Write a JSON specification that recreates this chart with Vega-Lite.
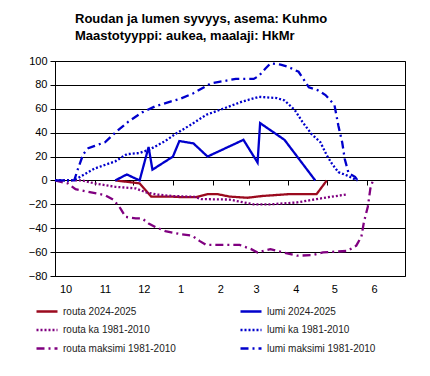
{
  "$schema": "https://vega.github.io/schema/vega-lite/v6.json",
  "width": 350,
  "height": 215,
  "autosize": {"type": "none"},
  "padding": {"left": 55, "top": 61, "right": 25, "bottom": 100},
  "background": "white",
  "title": {
    "text": ["Roudan ja lumen syvyys, asema: Kuhmo", "Maastotyyppi: aukea, maalaji: HkMr"],
    "anchor": "start",
    "frame": "group",
    "dx": 20,
    "offset": 12,
    "fontSize": 13,
    "fontWeight": "bold",
    "font": "Liberation Sans",
    "color": "black",
    "lineHeight": 17
  },
  "data": {
    "values": [
      {"series": "routa 2024-2025", "date": "2024-11-17", "depth": 0},
      {"series": "routa 2024-2025", "date": "2024-11-29", "depth": -1.5},
      {"series": "routa 2024-2025", "date": "2024-12-06", "depth": -2.5},
      {"series": "routa 2024-2025", "date": "2024-12-15", "depth": -13.5},
      {"series": "routa 2024-2025", "date": "2024-12-30", "depth": -13.5},
      {"series": "routa 2024-2025", "date": "2025-01-08", "depth": -14},
      {"series": "routa 2024-2025", "date": "2025-01-19", "depth": -14},
      {"series": "routa 2024-2025", "date": "2025-01-28", "depth": -11.5},
      {"series": "routa 2024-2025", "date": "2025-02-05", "depth": -11.5},
      {"series": "routa 2024-2025", "date": "2025-02-14", "depth": -13.5},
      {"series": "routa 2024-2025", "date": "2025-02-28", "depth": -14.5},
      {"series": "routa 2024-2025", "date": "2025-03-12", "depth": -13},
      {"series": "routa 2024-2025", "date": "2025-04-01", "depth": -11.5},
      {"series": "routa 2024-2025", "date": "2025-04-23", "depth": -11.5},
      {"series": "routa 2024-2025", "date": "2025-05-01", "depth": 0},

      {"series": "lumi 2024-2025", "date": "2024-11-17", "depth": 0},
      {"series": "lumi 2024-2025", "date": "2024-11-26", "depth": 5},
      {"series": "lumi 2024-2025", "date": "2024-12-06", "depth": 0},
      {"series": "lumi 2024-2025", "date": "2024-12-13", "depth": 28},
      {"series": "lumi 2024-2025", "date": "2024-12-16", "depth": 9},
      {"series": "lumi 2024-2025", "date": "2025-01-01", "depth": 20},
      {"series": "lumi 2024-2025", "date": "2025-01-06", "depth": 33},
      {"series": "lumi 2024-2025", "date": "2025-01-17", "depth": 31},
      {"series": "lumi 2024-2025", "date": "2025-01-28", "depth": 20},
      {"series": "lumi 2024-2025", "date": "2025-02-25", "depth": 34},
      {"series": "lumi 2024-2025", "date": "2025-03-08", "depth": 15},
      {"series": "lumi 2024-2025", "date": "2025-03-10", "depth": 48},
      {"series": "lumi 2024-2025", "date": "2025-03-29", "depth": 34},
      {"series": "lumi 2024-2025", "date": "2025-04-22", "depth": 0},

      {"series": "routa ka 1981-2010", "date": "2024-10-01", "depth": 0},
      {"series": "routa ka 1981-2010", "date": "2024-10-22", "depth": 0},
      {"series": "routa ka 1981-2010", "date": "2024-11-01", "depth": -2.5},
      {"series": "routa ka 1981-2010", "date": "2024-11-17", "depth": -5.3},
      {"series": "routa ka 1981-2010", "date": "2024-12-03", "depth": -6.7},
      {"series": "routa ka 1981-2010", "date": "2024-12-11", "depth": -10},
      {"series": "routa ka 1981-2010", "date": "2024-12-19", "depth": -11.7},
      {"series": "routa ka 1981-2010", "date": "2024-12-31", "depth": -13},
      {"series": "routa ka 1981-2010", "date": "2025-01-18", "depth": -13.7},
      {"series": "routa ka 1981-2010", "date": "2025-01-23", "depth": -15.6},
      {"series": "routa ka 1981-2010", "date": "2025-02-14", "depth": -16},
      {"series": "routa ka 1981-2010", "date": "2025-03-05", "depth": -20},
      {"series": "routa ka 1981-2010", "date": "2025-03-18", "depth": -20},
      {"series": "routa ka 1981-2010", "date": "2025-04-08", "depth": -18.4},
      {"series": "routa ka 1981-2010", "date": "2025-04-23", "depth": -15.6},
      {"series": "routa ka 1981-2010", "date": "2025-05-04", "depth": -13.7},
      {"series": "routa ka 1981-2010", "date": "2025-05-17", "depth": -11.7},

      {"series": "lumi ka 1981-2010", "date": "2024-10-01", "depth": 0},
      {"series": "lumi ka 1981-2010", "date": "2024-10-14", "depth": 0},
      {"series": "lumi ka 1981-2010", "date": "2024-10-19", "depth": 2},
      {"series": "lumi ka 1981-2010", "date": "2024-11-01", "depth": 10},
      {"series": "lumi ka 1981-2010", "date": "2024-11-17", "depth": 16},
      {"series": "lumi ka 1981-2010", "date": "2024-11-26", "depth": 22},
      {"series": "lumi ka 1981-2010", "date": "2024-12-06", "depth": 23},
      {"series": "lumi ka 1981-2010", "date": "2024-12-14", "depth": 26},
      {"series": "lumi ka 1981-2010", "date": "2024-12-26", "depth": 33},
      {"series": "lumi ka 1981-2010", "date": "2025-01-03", "depth": 39},
      {"series": "lumi ka 1981-2010", "date": "2025-01-14", "depth": 46},
      {"series": "lumi ka 1981-2010", "date": "2025-01-27", "depth": 55},
      {"series": "lumi ka 1981-2010", "date": "2025-02-09", "depth": 60},
      {"series": "lumi ka 1981-2010", "date": "2025-02-24", "depth": 66},
      {"series": "lumi ka 1981-2010", "date": "2025-03-09", "depth": 70},
      {"series": "lumi ka 1981-2010", "date": "2025-03-23", "depth": 69},
      {"series": "lumi ka 1981-2010", "date": "2025-03-29", "depth": 67},
      {"series": "lumi ka 1981-2010", "date": "2025-04-06", "depth": 59},
      {"series": "lumi ka 1981-2010", "date": "2025-04-12", "depth": 49},
      {"series": "lumi ka 1981-2010", "date": "2025-04-19", "depth": 39},
      {"series": "lumi ka 1981-2010", "date": "2025-04-26", "depth": 32},
      {"series": "lumi ka 1981-2010", "date": "2025-05-01", "depth": 21},
      {"series": "lumi ka 1981-2010", "date": "2025-05-05", "depth": 14},
      {"series": "lumi ka 1981-2010", "date": "2025-05-10", "depth": 7},
      {"series": "lumi ka 1981-2010", "date": "2025-05-17", "depth": 4},
      {"series": "lumi ka 1981-2010", "date": "2025-05-23", "depth": 1},
      {"series": "lumi ka 1981-2010", "date": "2025-05-25", "depth": 0},

      {"series": "routa maksimi 1981-2010", "date": "2024-10-01", "depth": 0},
      {"series": "routa maksimi 1981-2010", "date": "2024-10-11", "depth": -2.5},
      {"series": "routa maksimi 1981-2010", "date": "2024-10-17", "depth": -7.3},
      {"series": "routa maksimi 1981-2010", "date": "2024-10-27", "depth": -9.5},
      {"series": "routa maksimi 1981-2010", "date": "2024-11-09", "depth": -12.3},
      {"series": "routa maksimi 1981-2010", "date": "2024-11-16", "depth": -16.5},
      {"series": "routa maksimi 1981-2010", "date": "2024-11-21", "depth": -23.4},
      {"series": "routa maksimi 1981-2010", "date": "2024-11-25", "depth": -30.5},
      {"series": "routa maksimi 1981-2010", "date": "2024-12-03", "depth": -31.8},
      {"series": "routa maksimi 1981-2010", "date": "2024-12-08", "depth": -31.8},
      {"series": "routa maksimi 1981-2010", "date": "2024-12-13", "depth": -36},
      {"series": "routa maksimi 1981-2010", "date": "2024-12-19", "depth": -39.3},
      {"series": "routa maksimi 1981-2010", "date": "2024-12-26", "depth": -42.4},
      {"series": "routa maksimi 1981-2010", "date": "2025-01-08", "depth": -45.2},
      {"series": "routa maksimi 1981-2010", "date": "2025-01-16", "depth": -46.3},
      {"series": "routa maksimi 1981-2010", "date": "2025-01-22", "depth": -50.8},
      {"series": "routa maksimi 1981-2010", "date": "2025-01-27", "depth": -54},
      {"series": "routa maksimi 1981-2010", "date": "2025-02-14", "depth": -54},
      {"series": "routa maksimi 1981-2010", "date": "2025-02-22", "depth": -54},
      {"series": "routa maksimi 1981-2010", "date": "2025-03-03", "depth": -57.5},
      {"series": "routa maksimi 1981-2010", "date": "2025-03-08", "depth": -60.3},
      {"series": "routa maksimi 1981-2010", "date": "2025-03-18", "depth": -57.5},
      {"series": "routa maksimi 1981-2010", "date": "2025-03-28", "depth": -60.3},
      {"series": "routa maksimi 1981-2010", "date": "2025-04-08", "depth": -63},
      {"series": "routa maksimi 1981-2010", "date": "2025-04-20", "depth": -62.5},
      {"series": "routa maksimi 1981-2010", "date": "2025-04-28", "depth": -60.3},
      {"series": "routa maksimi 1981-2010", "date": "2025-05-17", "depth": -59},
      {"series": "routa maksimi 1981-2010", "date": "2025-05-24", "depth": -54.6},
      {"series": "routa maksimi 1981-2010", "date": "2025-05-28", "depth": -47},
      {"series": "routa maksimi 1981-2010", "date": "2025-05-30", "depth": -34.6},
      {"series": "routa maksimi 1981-2010", "date": "2025-06-02", "depth": -22},
      {"series": "routa maksimi 1981-2010", "date": "2025-06-04", "depth": -6.7},
      {"series": "routa maksimi 1981-2010", "date": "2025-06-06", "depth": 0},

      {"series": "lumi maksimi 1981-2010", "date": "2024-10-01", "depth": 0},
      {"series": "lumi maksimi 1981-2010", "date": "2024-10-16", "depth": 0},
      {"series": "lumi maksimi 1981-2010", "date": "2024-10-19", "depth": 10},
      {"series": "lumi maksimi 1981-2010", "date": "2024-10-23", "depth": 22},
      {"series": "lumi maksimi 1981-2010", "date": "2024-10-27", "depth": 27},
      {"series": "lumi maksimi 1981-2010", "date": "2024-11-01", "depth": 29},
      {"series": "lumi maksimi 1981-2010", "date": "2024-11-09", "depth": 32},
      {"series": "lumi maksimi 1981-2010", "date": "2024-11-18", "depth": 41},
      {"series": "lumi maksimi 1981-2010", "date": "2024-11-27", "depth": 49},
      {"series": "lumi maksimi 1981-2010", "date": "2024-12-08", "depth": 57},
      {"series": "lumi maksimi 1981-2010", "date": "2024-12-18", "depth": 62},
      {"series": "lumi maksimi 1981-2010", "date": "2024-12-30", "depth": 66},
      {"series": "lumi maksimi 1981-2010", "date": "2025-01-07", "depth": 68.5},
      {"series": "lumi maksimi 1981-2010", "date": "2025-01-17", "depth": 73},
      {"series": "lumi maksimi 1981-2010", "date": "2025-01-30", "depth": 81},
      {"series": "lumi maksimi 1981-2010", "date": "2025-02-06", "depth": 82.5},
      {"series": "lumi maksimi 1981-2010", "date": "2025-02-19", "depth": 85},
      {"series": "lumi maksimi 1981-2010", "date": "2025-03-05", "depth": 85},
      {"series": "lumi maksimi 1981-2010", "date": "2025-03-09", "depth": 87.5},
      {"series": "lumi maksimi 1981-2010", "date": "2025-03-14", "depth": 93.5},
      {"series": "lumi maksimi 1981-2010", "date": "2025-03-18", "depth": 98},
      {"series": "lumi maksimi 1981-2010", "date": "2025-03-26", "depth": 97},
      {"series": "lumi maksimi 1981-2010", "date": "2025-04-01", "depth": 95},
      {"series": "lumi maksimi 1981-2010", "date": "2025-04-09", "depth": 91},
      {"series": "lumi maksimi 1981-2010", "date": "2025-04-17", "depth": 78},
      {"series": "lumi maksimi 1981-2010", "date": "2025-04-24", "depth": 75.5},
      {"series": "lumi maksimi 1981-2010", "date": "2025-04-30", "depth": 71.5},
      {"series": "lumi maksimi 1981-2010", "date": "2025-05-07", "depth": 63},
      {"series": "lumi maksimi 1981-2010", "date": "2025-05-10", "depth": 46},
      {"series": "lumi maksimi 1981-2010", "date": "2025-05-13", "depth": 32},
      {"series": "lumi maksimi 1981-2010", "date": "2025-05-15", "depth": 18},
      {"series": "lumi maksimi 1981-2010", "date": "2025-05-18", "depth": 6},
      {"series": "lumi maksimi 1981-2010", "date": "2025-05-23", "depth": 3},
      {"series": "lumi maksimi 1981-2010", "date": "2025-05-25", "depth": 0}
    ]
  },
  "layer": [
    {
      "mark": {"type": "line", "strokeWidth": 2.3},
      "encoding": {
        "x": {
          "field": "date",
          "type": "temporal",
          "scale": {
            "type": "utc",
            "nice": false,
            "domain": [
              {"year": 2024, "month": 10, "date": 1, "utc": true},
              {"year": 2025, "month": 7, "date": 1, "utc": true}
            ]
          },
          "axis": {
            "orient": "bottom",
            "title": null,
            "values": [
              {"year": 2024, "month": 10, "date": 1, "utc": true},
              {"year": 2024, "month": 11, "date": 1, "utc": true},
              {"year": 2024, "month": 12, "date": 1, "utc": true},
              {"year": 2025, "month": 1, "date": 1, "utc": true},
              {"year": 2025, "month": 2, "date": 1, "utc": true},
              {"year": 2025, "month": 3, "date": 1, "utc": true},
              {"year": 2025, "month": 4, "date": 1, "utc": true},
              {"year": 2025, "month": 5, "date": 1, "utc": true},
              {"year": 2025, "month": 6, "date": 1, "utc": true}
            ],
            "labelExpr": "utcFormat(datum.value, '%-m')",
            "ticks": false,
            "tickSize": 0,
            "domain": false,
            "grid": false,
            "labelFlush": false,
            "labelAlign": "left",
            "labelOffset": 4.5,
            "labelPadding": 7,
            "labelFontSize": 11,
            "labelColor": "black",
            "labelFont": "Liberation Sans"
          }
        },
        "y": {
          "field": "depth",
          "type": "quantitative",
          "scale": {"domain": [-80, 100], "nice": false, "zero": false},
          "axis": {
            "title": null,
            "values": [-80, -60, -40, -20, 0, 20, 40, 60, 80, 100],
            "grid": true,
            "gridColor": "black",
            "gridWidth": 1,
            "gridOpacity": 1,
            "domain": true,
            "domainColor": "black",
            "ticks": true,
            "tickSize": 5,
            "tickColor": "black",
            "labelPadding": 3,
            "labelFontSize": 11,
            "labelColor": "black",
            "labelFont": "Liberation Sans"
          }
        },
        "color": {
          "field": "series",
          "type": "nominal",
          "scale": {
            "domain": ["routa 2024-2025", "lumi 2024-2025", "routa ka 1981-2010", "lumi ka 1981-2010", "routa maksimi 1981-2010", "lumi maksimi 1981-2010"],
            "range": ["#9B0A1E", "#0000CC", "#800080", "#0000CC", "#800080", "#0000CC"]
          },
          "legend": {
            "orient": "none",
            "legendX": -20,
            "legendY": 238.5,
            "direction": "horizontal",
            "columns": 2,
            "columnPadding": 59,
            "rowPadding": 1.5,
            "title": null,
            "symbolType": "stroke",
            "symbolSize": 441,
            "symbolStrokeWidth": 2.5,
            "labelFontSize": 10,
            "labelOffset": 4,
            "labelColor": "#222222",
            "labelFont": "Liberation Sans",
            "labelLimit": 300
          }
        },
        "strokeDash": {
          "field": "series",
          "type": "nominal",
          "scale": {
            "domain": ["routa 2024-2025", "lumi 2024-2025", "routa ka 1981-2010", "lumi ka 1981-2010", "routa maksimi 1981-2010", "lumi maksimi 1981-2010"],
            "range": [[1, 0], [1, 0], [2, 2], [2, 2], [8, 4, 2, 4], [8, 4, 2, 4]]
          },
          "legend": {
            "orient": "none",
            "legendX": -20,
            "legendY": 238.5,
            "direction": "horizontal",
            "columns": 2,
            "columnPadding": 59,
            "rowPadding": 1.5,
            "title": null,
            "symbolType": "stroke",
            "symbolSize": 441,
            "symbolStrokeWidth": 2.5,
            "labelFontSize": 10,
            "labelOffset": 4,
            "labelColor": "#222222",
            "labelFont": "Liberation Sans",
            "labelLimit": 300
          }
        }
      }
    },
    {
      "mark": {"type": "line", "opacity": 0},
      "encoding": {
        "x": {
          "field": "date",
          "type": "temporal",
          "axis": {
            "orient": "bottom",
            "offset": -96,
            "title": null,
            "values": [
              {"year": 2024, "month": 11, "date": 1, "utc": true},
              {"year": 2024, "month": 12, "date": 1, "utc": true},
              {"year": 2025, "month": 1, "date": 1, "utc": true},
              {"year": 2025, "month": 2, "date": 1, "utc": true},
              {"year": 2025, "month": 3, "date": 1, "utc": true},
              {"year": 2025, "month": 4, "date": 1, "utc": true},
              {"year": 2025, "month": 5, "date": 1, "utc": true},
              {"year": 2025, "month": 6, "date": 1, "utc": true}
            ],
            "labels": false,
            "ticks": true,
            "tickSize": 5,
            "tickColor": "black",
            "tickWidth": 1,
            "domain": false,
            "grid": false
          }
        },
        "y": {
          "field": "depth",
          "type": "quantitative",
          "axis": {
            "title": null,
            "values": [-80, -60, -40, -20, 0, 20, 40, 60, 80, 100],
            "grid": true,
            "gridColor": "black",
            "gridWidth": 1,
            "gridOpacity": 1,
            "domain": true,
            "domainColor": "black",
            "ticks": true,
            "tickSize": 5,
            "tickColor": "black",
            "labelPadding": 3,
            "labelFontSize": 11,
            "labelColor": "black",
            "labelFont": "Liberation Sans"
          }
        },
        "detail": {"field": "series"}
      }
    }
  ],
  "resolve": {"axis": {"x": "independent"}},
  "config": {
    "view": {"stroke": "black", "strokeWidth": 1},
    "font": "Liberation Sans"
  }
}
